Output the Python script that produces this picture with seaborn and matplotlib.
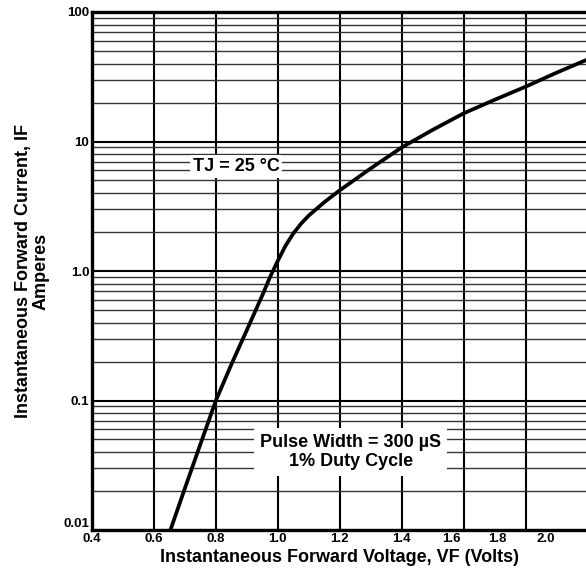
import numpy as np
import pandas as pd
import matplotlib
matplotlib.use("Agg")
import matplotlib.pyplot as plt
import seaborn as sns
from matplotlib.ticker import FixedLocator, LogLocator, NullFormatter

# forward voltage (V) vs forward current (A)
forward_voltage = [0.65, 0.70, 0.75, 0.80, 0.85, 0.90, 0.95, 0.975, 1.00, 1.025,
                   1.05, 1.075, 1.10, 1.15, 1.20, 1.30, 1.40, 1.50, 1.60, 1.70,
                   1.80, 1.90, 2.00]
forward_current = [0.0095, 0.021, 0.046, 0.10, 0.19, 0.35, 0.65, 0.90, 1.2, 1.57,
                   1.95, 2.32, 2.68, 3.40, 4.2, 6.2, 9.0, 12.3, 16.5, 21.0,
                   26.5, 34.0, 43.0]

y_ticks = [0.01, 0.1, 1.0, 10, 100]
y_tick_labels = ["0.01", "0.1", "1.0", "10", "100"]
x_grid = [0.4, 0.6, 0.8, 1.0, 1.2, 1.4, 1.6, 1.8, 2.0]
# the printed labels on the original sheet drift left of their grid lines past 1.4
x_label_pos = [0.4, 0.6, 0.8, 1.0, 1.2, 1.4, 1.561, 1.71, 1.866]
x_tick_labels = ["0.4", "0.6", "0.8", "1.0", "1.2", "1.4", "1.6", "1.8", "2.0"]

sns.set_theme(style="white")
plt.rcParams["font.family"] = ["Liberation Sans", "DejaVu Sans"]
plt.rcParams["font.weight"] = "bold"
plt.rcParams["text.color"] = "black"
plt.rcParams["axes.labelcolor"] = "black"
plt.rcParams["xtick.color"] = "black"
plt.rcParams["ytick.color"] = "black"

df = pd.DataFrame({"vf": forward_voltage, "i_f": forward_current})

fig = plt.figure(figsize=(5.86, 5.74), dpi=100)
ax = fig.add_axes([92 / 586, 44 / 574, 1 - 92 / 586, (530 - 12) / 574])

ax.set_yscale("log")
ax.set_ylim(0.01, 100)
ax.set_xlim(0.4, 1.995)

# grid: heavy verticals, decade lines and thinner minor decade lines
ax.xaxis.remove_overlapping_locs = False
ax.xaxis.set_minor_locator(FixedLocator(x_grid))
ax.yaxis.set_major_locator(FixedLocator(y_ticks))
ax.yaxis.set_minor_locator(LogLocator(base=10, subs=np.arange(2, 10), numticks=20))
ax.yaxis.set_minor_formatter(NullFormatter())
ax.grid(which="minor", axis="x", color="black", linewidth=1.5)
ax.grid(which="major", axis="y", color="black", linewidth=1.5)
ax.grid(which="minor", axis="y", color="#333333", linewidth=1.0)
ax.set_axisbelow(True)

sns.lineplot(data=df, x="vf", y="i_f", ax=ax, color="black", linewidth=2.7,
             zorder=3)

ax.set_xticks(x_label_pos, x_tick_labels)
ax.set_yticks(y_ticks, y_tick_labels)
ax.tick_params(axis="both", which="both", length=0, labelsize=9.5, pad=2,
               labelcolor="black")
for lab in ax.get_xticklabels() + ax.get_yticklabels():
    lab.set_fontweight("bold")
# the bottom y label sits above its line on the original
ax.get_yticklabels()[0].set_verticalalignment("bottom")

for side in ["left", "bottom", "top"]:
    ax.spines[side].set_linewidth(2.4)
    ax.spines[side].set_color("black")
ax.spines["right"].set_visible(False)

ax.set_xlabel("Instantaneous Forward Voltage, VF (Volts)", fontsize=13,
              fontweight="bold", labelpad=3, color="black")
ax.set_ylabel("Instantaneous Forward Current, IF\nAmperes", fontsize=13,
              fontweight="bold", labelpad=10, linespacing=1.05, color="black")

ax.text(0.865, 6.4, "TJ = 25 °C", ha="center", va="center", fontsize=13,
        fontweight="bold", color="black", zorder=4,
        bbox=dict(facecolor="white", edgecolor="none", pad=2))
ax.text(1.235, 0.04, "Pulse Width = 300 µS\n1% Duty Cycle", ha="center",
        va="center", fontsize=13, fontweight="bold", linespacing=1.15,
        color="black", zorder=4,
        bbox=dict(facecolor="white", edgecolor="none", pad=4))

fig.savefig("out.png", dpi=100)
